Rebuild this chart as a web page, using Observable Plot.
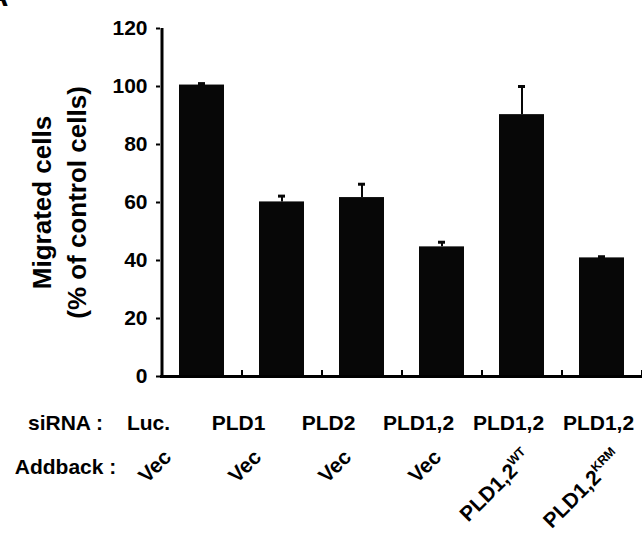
<!DOCTYPE html>
<html>
<head>
<meta charset="utf-8">
<script src="https://cdn.jsdelivr.net/npm/d3@7"></script>
<script src="https://cdn.jsdelivr.net/npm/@observablehq/plot@0.6"></script>
<style>
  html, body { margin: 0; padding: 0; background: #fff; }
  #chart { width: 642px; height: 544px; overflow: hidden; }
  #chart svg { display: block; }
</style>
</head>
<body>
<div id="chart"></div>
<script>
// ---- data ----
const siRNA = ["Luc.", "PLD1", "PLD2", "PLD1,2", "PLD1,2", "PLD1,2"];
const addback = ["Vec", "Vec", "Vec", "Vec", "PLD1,2^WT", "PLD1,2^KRM"];
const migrated = [100.5, 60.2, 61.7, 44.7, 90.3, 40.9];
const sem = [0.5, 2.0, 4.6, 1.6, 9.7, 0.4];
const yTicks = [0, 20, 40, 60, 80, 100, 120];
const rowLabels = ["siRNA :", "Addback :"];
const yTitle = "Migrated cells\n(% of control cells)";
const panelLabel = "A";

const idx = d3.range(siRNA.length);
const font = "'Liberation Sans', Arial, Helvetica, sans-serif";

const main = Plot.plot({
  width: 642,
  height: 390,
  marginLeft: 160,
  marginRight: 0,
  marginTop: 28,
  marginBottom: 14,
  style: {fontFamily: font, fontWeight: "bold", color: "#000", background: "#fff"},
  x: {type: "band", domain: idx, paddingInner: 0.44, paddingOuter: 0.22, label: null},
  y: {domain: [0, 120], label: null},
  marks: [
    Plot.barY(idx, {x: i => i, y: i => migrated[i], fill: "#070707"}),
    Plot.ruleX(idx, {x: i => i, y1: i => migrated[i], y2: i => migrated[i] + sem[i], stroke: "#070707", strokeWidth: 2}),
    Plot.tickY(idx, {x: i => i, y: i => migrated[i] + sem[i], stroke: "#070707", strokeWidth: 3, inset: 19}),
    Plot.ruleY([0], {stroke: "#000", strokeWidth: 3}),
    Plot.ruleX([idx[0]], {x: d => d, y1: 0, y2: 120, dx: -40, stroke: "#000", strokeWidth: 3}),
    Plot.axisX(idx, {tickSize: -6, dx: 40, strokeWidth: 2, tickFormat: () => "", label: null}),
    Plot.axisY(yTicks, {tickSize: 4, tickPadding: 9, strokeWidth: 2, fontSize: 21, fontWeight: "bold", label: null}),
    Plot.text([yTitle], {frameAnchor: "left", textAnchor: "middle", lineAnchor: "middle", rotate: -90, dx: -103, fontSize: 26, fontWeight: "bold", lineHeight: 1.35, fill: "#000"}),
    Plot.text([panelLabel], {frameAnchor: "top-left", dx: -152, dy: -23, textAnchor: "end", lineAnchor: "bottom", fontSize: 30, fontWeight: "bold", fill: "#000"})
  ]
});

const labels = Plot.plot({
  width: 642,
  height: 154,
  margin: 0,
  style: {fontFamily: font, fontWeight: "bold", color: "#000", background: "#fff"},
  x: {type: "point", domain: idx, range: [147, 598], padding: 0, axis: null},
  y: {type: "point", domain: ["siRNA", "Addback"], range: [39, 83], padding: 0, axis: null},
  marks: [
    Plot.text(rowLabels, {frameAnchor: "left", textAnchor: "middle", y: (d, i) => i === 0 ? "siRNA" : "Addback", text: d => d, dx: 65, lineAnchor: "bottom", fontSize: 21, fontWeight: "bold", fill: "#000"}),
    Plot.text(idx, {x: i => i, y: () => "siRNA", text: i => siRNA[i], textAnchor: "middle", lineAnchor: "bottom", fontSize: 21, fontWeight: "bold", fill: "#000"}),
    Plot.text(idx, {x: i => i, y: () => "Addback", text: i => addback[i], rotate: -45, textAnchor: "end", lineAnchor: "bottom", dx: 24, dy: -15, fontSize: 21, fontWeight: "bold", fill: "#000"})
  ]
});

// superscripts (WT / KRM)
labels.querySelectorAll("text").forEach(t => {
  if (t.textContent.includes("^")) {
    const [base, sup] = t.textContent.split("^");
    t.textContent = "";
    const ns = "http://www.w3.org/2000/svg";
    const a = document.createElementNS(ns, "tspan");
    a.textContent = base;
    const b = document.createElementNS(ns, "tspan");
    b.textContent = sup;
    b.setAttribute("font-size", "0.6em");
    b.setAttribute("dy", "-0.7em");
    t.appendChild(a);
    t.appendChild(b);
  }
});

const host = document.getElementById("chart");
host.appendChild(main);
host.appendChild(labels);
</script>
</body>
</html>
